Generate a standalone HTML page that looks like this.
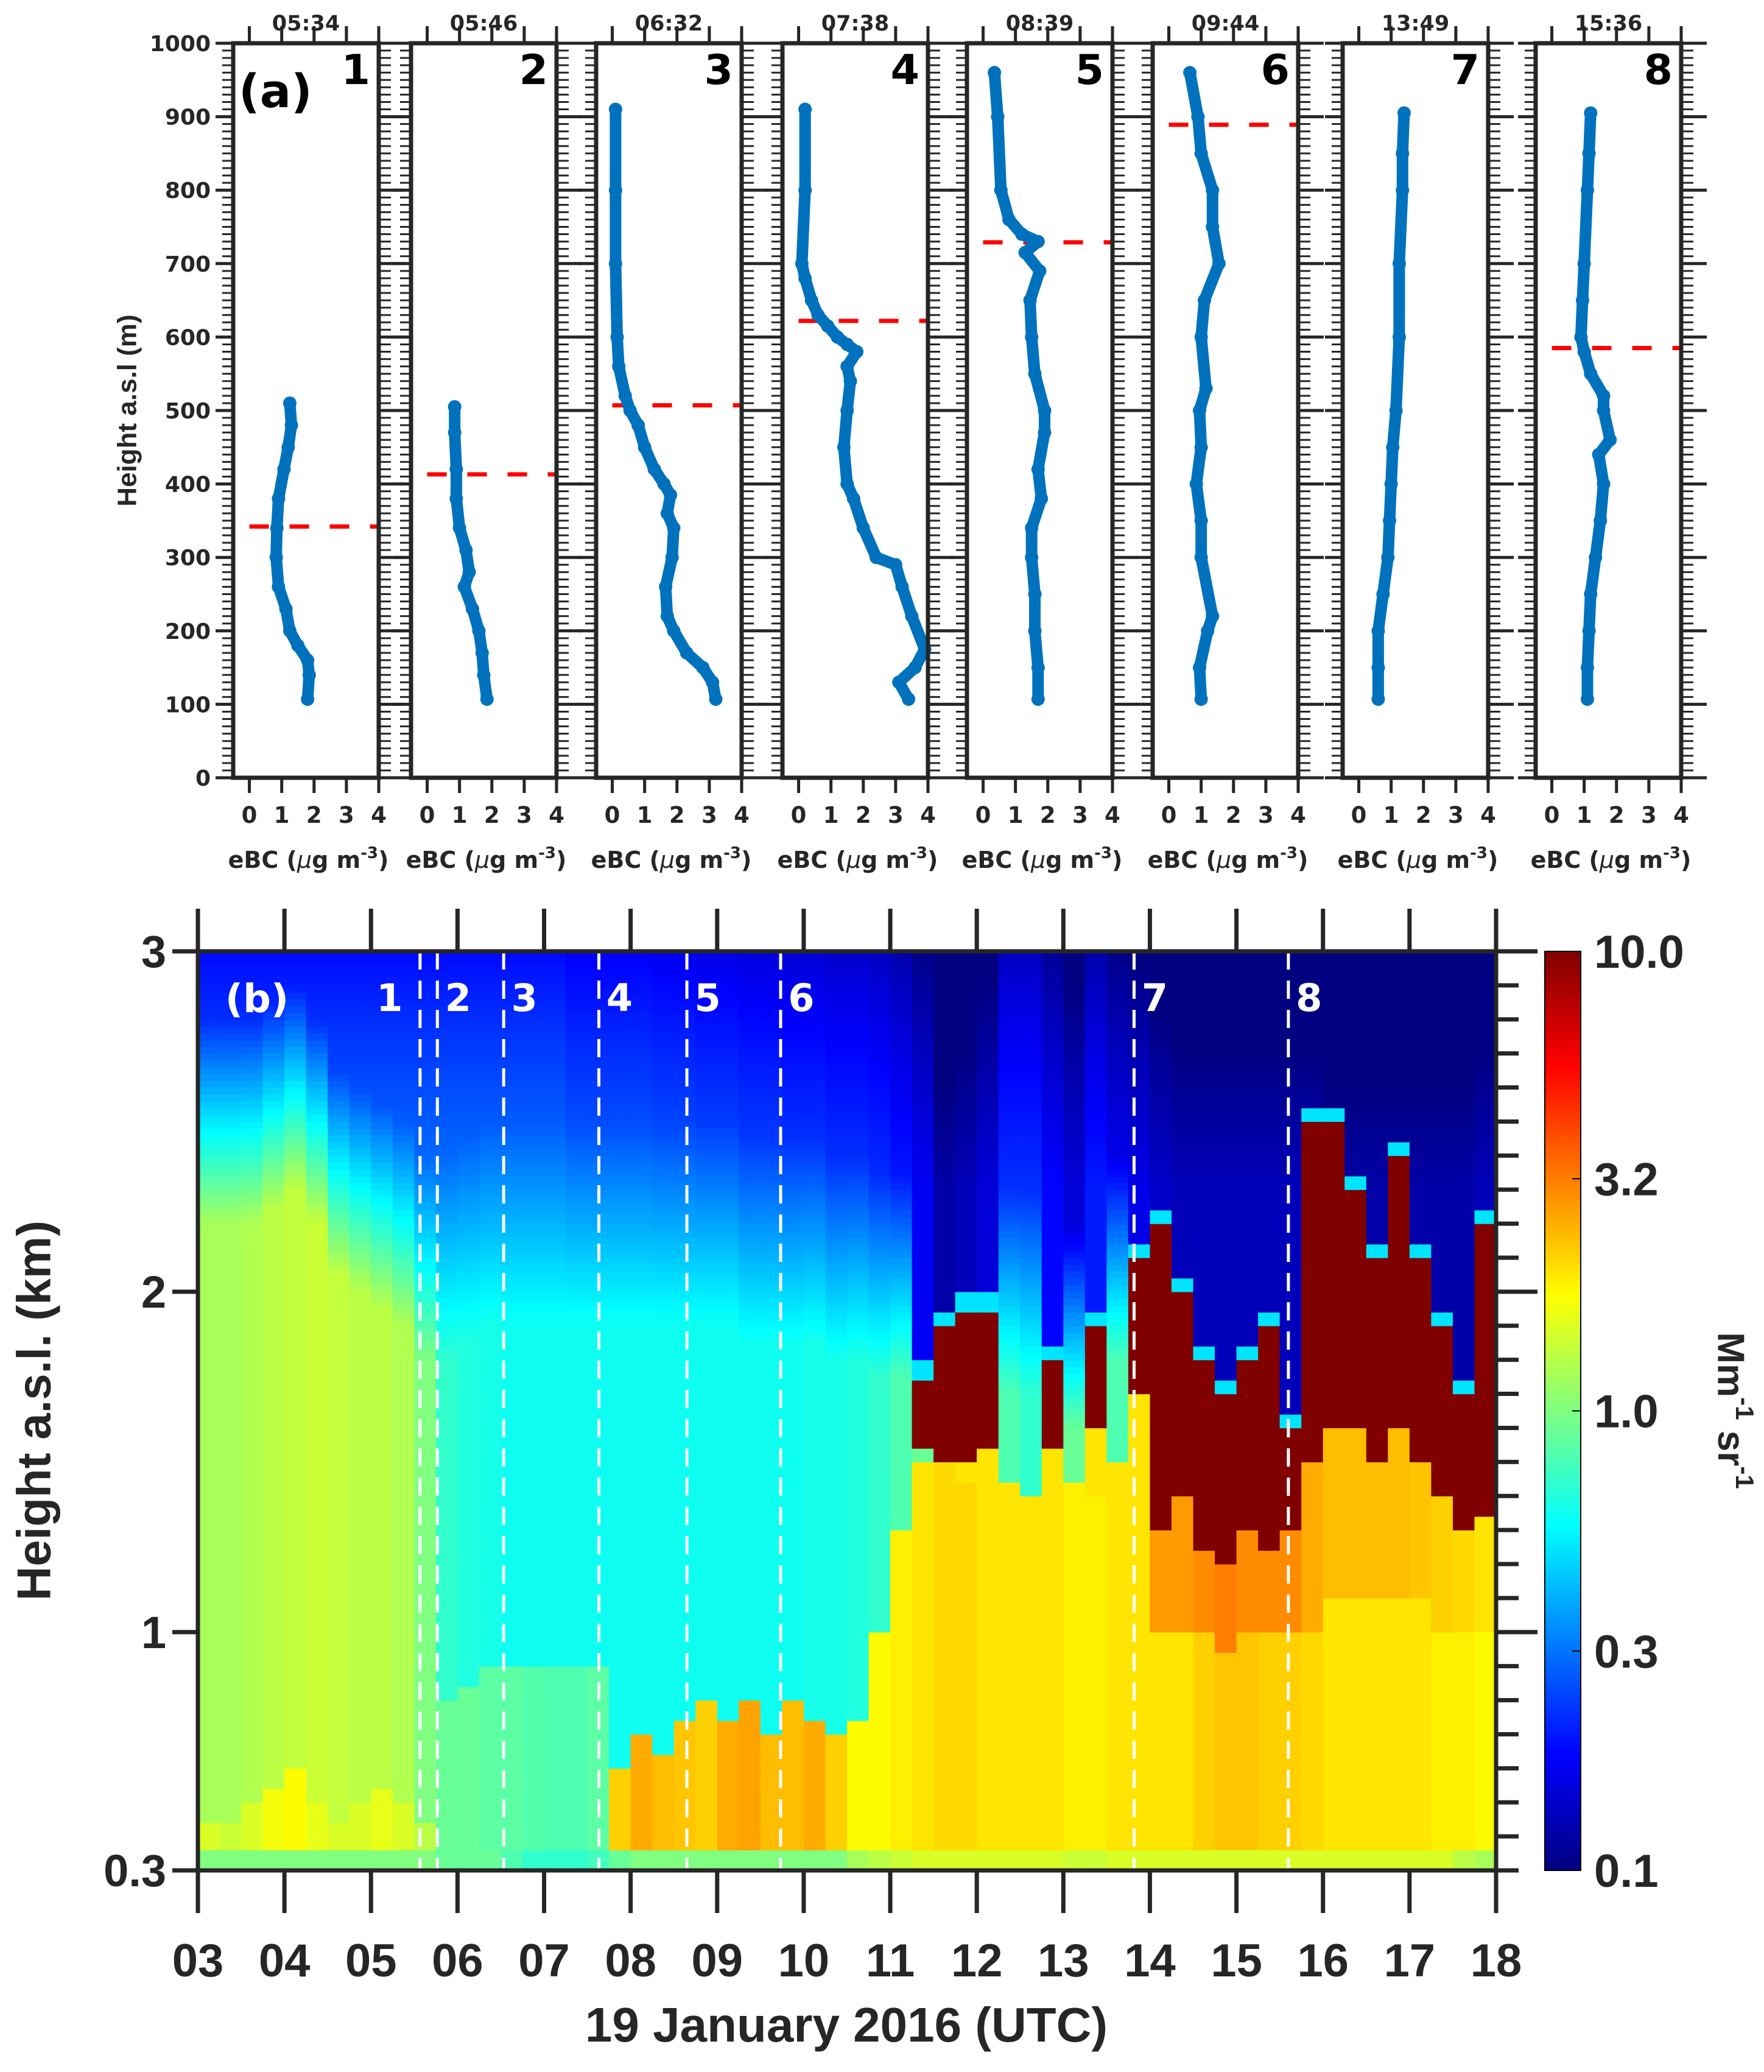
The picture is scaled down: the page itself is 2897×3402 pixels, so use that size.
<!DOCTYPE html>
<html><head><meta charset="utf-8">
<style>
html,body{margin:0;padding:0;background:#fff;}
svg{display:block;}
.ta{font-family:"DejaVu Sans","Liberation Sans",sans-serif;font-weight:bold;fill:#262626;}
.tb{font-family:"Liberation Sans Narrow","Liberation Sans",sans-serif;font-stretch:condensed;font-weight:bold;fill:#262626;}
.tc{font-family:"Liberation Sans",sans-serif;font-weight:bold;fill:#262626;}
</style></head>
<body>
<svg id="fig" width="2897" height="3402" viewBox="0 0 2897 3402" xmlns="http://www.w3.org/2000/svg">
<g id="pa"></g>
<g id="pb"></g>
<text class="tc" x="212" y="674" font-size="44" text-anchor="middle" transform="rotate(-90 212 674)" dominant-baseline="middle">Height a.s.l (m)</text>
<text class="ta" x="392" y="176" font-size="76" style="fill:#000">(a)</text>
<text class="tc" x="62" y="2316" font-size="78" text-anchor="middle" transform="rotate(-90 62 2316)" dominant-baseline="middle">Height a.s.l. (km)</text>
<text class="tb" x="1390" y="3352" font-size="80" text-anchor="middle">19 January 2016 (UTC)</text>
<text class="tc" x="2838" y="2316" font-size="62" text-anchor="middle" transform="rotate(90 2838 2316)" dominant-baseline="middle">Mm<tspan dy="-24" font-size="42">-1</tspan><tspan dy="24"> sr</tspan><tspan dy="-24" font-size="42">-1</tspan></text>
</svg>
<script>
// ---------- Panel (a) data ----------
const profTimes = ['05:34','05:46','06:32','07:38','08:39','09:44','13:49','15:36'];
const blHeights = [342, 413, 507, 622, 729, 889, null, 585];
const prof1H = [107,140,160,180,200,230,260,300,340,380,420,450,480,510];
const prof1E = [1.8,1.85,1.8,1.5,1.25,1.13,0.9,0.83,0.85,0.9,1.07,1.2,1.3,1.25];
const prof2H = [107,140,170,200,230,260,280,310,340,380,420,470,505];
const prof2E = [1.85,1.75,1.7,1.6,1.4,1.15,1.3,1.2,1.0,0.9,0.9,0.85,0.85];
const prof3H = [107,130,150,170,200,220,260,300,340,360,385,400,420,450,480,500,520,560,600,700,800,910];
const prof3E = [3.2,3.1,2.8,2.3,1.9,1.7,1.65,1.85,1.9,1.7,1.8,1.6,1.3,1.0,0.8,0.55,0.4,0.2,0.15,0.1,0.1,0.1];
const prof4H = [107,130,150,175,220,260,290,300,340,380,400,450,500,540,560,580,590,600,615,630,650,680,700,800,910];
const prof4E = [3.4,3.1,3.6,3.9,3.5,3.2,3.0,2.4,2.0,1.7,1.5,1.4,1.5,1.6,1.5,1.8,1.5,1.2,0.9,0.6,0.4,0.2,0.1,0.2,0.2];
const prof5H = [107,150,200,250,300,340,380,420,470,500,550,600,650,690,715,730,740,760,800,900,960];
const prof5E = [1.7,1.7,1.6,1.6,1.5,1.5,1.8,1.7,1.9,1.9,1.6,1.5,1.45,1.75,1.3,1.7,1.2,0.8,0.55,0.45,0.35];
const prof6H = [107,150,200,220,300,350,400,450,500,530,600,650,700,750,800,850,900,960];
const prof6E = [1.0,0.95,1.2,1.35,1.0,1.0,0.85,1.0,0.95,1.15,1.0,1.1,1.55,1.35,1.35,1.0,0.9,0.65];
const prof7H = [107,150,200,250,300,350,400,450,500,600,700,800,850,905];
const prof7E = [0.6,0.6,0.6,0.75,0.9,0.95,1.0,1.05,1.15,1.25,1.25,1.35,1.35,1.4];
const prof8H = [107,150,200,250,300,350,400,440,460,500,520,550,580,600,650,700,800,850,905];
const prof8E = [1.1,1.1,1.15,1.2,1.35,1.5,1.6,1.45,1.8,1.6,1.6,1.2,1.0,0.9,0.95,1.0,1.1,1.15,1.2];
const profH = [prof1H,prof2H,prof3H,prof4H,prof5H,prof6H,prof7H,prof8H];
const profE = [prof1E,prof2E,prof3E,prof4E,prof5E,prof6E,prof7E,prof8E];
const eTicks = [0,1,2,3,4];

// ---------- Panel (b) data (one value per 15-min column starting 03:00) ----------
const surfVal = [1.0,1.0,1.0,1.0,1.0,1.0,1.0,1.0,1.0,1.0,1.0,0.9,0.9,0.9,0.8,0.7,0.7,0.7,0.75,0.9,1.0,1.0,1.0,1.0,1.0,1.0,1.0,1.0,1.0,1.0,1.2,1.3,1.4,1.5,1.5,1.5,1.5,1.5,1.5,1.5,1.4,1.4,1.5,1.5,1.5,1.5,1.5,1.5,1.5,1.5,1.5,1.5,1.5,1.5,1.5,1.5,1.5,1.5,1.3,1.2];
const lowTop = [.45,.45,.5,.55,.6,.5,.45,.5,.55,.5,.45,.8,.85,.9,.9,.9,.9,.9,.9,.6,.7,.65,.75,.8,.75,.8,.7,.8,.75,.7,.75,1.0,1.3,1.5,1.5,1.45,1.5,1.45,1.4,1.45,1.45,1.4,1.5,1.5,1.0,1.0,1.0,.95,1.0,1.0,1.0,1.0,1.1,1.1,1.1,1.1,1.1,1.0,1.0,1.0];
const lowVal = [1.5,1.4,1.5,1.7,1.8,1.6,1.5,1.5,1.6,1.5,1.3,0.9,0.9,.85,.85,.82,.8,.8,.85,2.2,2.6,2.4,2.3,2.2,2.6,2.7,2.4,2.4,2.6,2.2,1.8,1.8,1.9,2.0,2.1,2.1,2.0,2.0,2.0,2.0,1.9,1.9,2.0,2.0,2.0,2.0,2.2,2.3,2.3,2.2,2.2,2.1,2.0,2.0,2.0,2.0,2.0,1.9,1.9,1.8];
const mlTop = [2.2,2.2,2.2,2.25,2.3,2.2,2.05,2.0,1.95,1.9,1.8,1.8,1.85,1.9,1.9,1.9,1.9,1.9,1.9,1.9,1.9,1.9,1.9,1.9,1.9,1.85,1.85,1.85,1.85,1.8,1.8,1.75,1.75,1.55,1.5,1.5,1.55,1.7,1.7,1.55,1.6,1.6,1.8,1.7,1.3,1.4,1.25,1.2,1.3,1.25,1.3,1.5,1.6,1.6,1.5,1.6,1.5,1.4,1.3,1.35];
const mlVal = [1.2,1.2,1.25,1.3,1.35,1.4,1.35,1.3,1.3,1.25,1.0,.7,.65,.62,.6,.6,.6,.6,.6,.6,.6,.6,.6,.6,.6,.6,.6,.6,.62,.62,.65,.7,.8,.9,2.0,2.0,2.0,.8,.7,2.0,.9,2.0,.8,2.0,2.8,2.8,3.0,3.2,3.0,3.0,3.0,2.6,2.4,2.4,2.4,2.4,2.3,2.2,2.1,2.0];
const cloudTop = [0,0,0,0,0,0,0,0,0,0,0,0,0,0,0,0,0,0,0,0,0,0,0,0,0,0,0,0,0,0,0,0,0,1.75,1.9,1.95,1.95,0,0,1.8,0,1.9,0,2.1,2.2,2.0,1.8,1.7,1.8,1.9,1.6,2.5,2.5,2.3,2.1,2.4,2.1,1.9,1.7,2.2];
const ftVal = [.3,.3,.3,.3,.3,.3,.3,.3,.3,.3,.3,.3,.3,.3,.3,.3,.3,.28,.28,.28,.28,.27,.27,.26,.26,.25,.25,.24,.24,.23,.23,.22,.2,.17,.12,.13,.15,.22,.22,.18,.15,.2,.17,.16,.14,.13,.13,.13,.13,.13,.13,.13,.12,.12,.12,.12,.12,.12,.12,.13];
const flightTimes = [5.567,5.767,6.533,7.633,8.65,9.733,13.817,15.6];
const flightLabels = ['1','2','3','4','5','6','7','8'];
const hourTicks = ['03','04','05','06','07','08','09','10','11','12','13','14','15','16','17','18'];
const kmTicks = [0.3,1,2,3];
const cbTicks = [0.1,0.3,1.0,3.2,10.0];

const NS='http://www.w3.org/2000/svg';
function mk(tag, attrs, parent){const e=document.createElementNS(NS,tag);for(const k in attrs)e.setAttribute(k,attrs[k]);parent.appendChild(e);return e;}
const AX='#262626';

// ===== Panel (a) =====
const pa=document.getElementById('pa');
const lefts=[383,675,979,1285,1588,1893,2205,2522];
const PW=239, aTop=71, aBot=1277;
const yA=h=>aBot-h*(aBot-aTop)/1000;
for(let p=0;p<8;p++){
  const L=lefts[p], R=L+PW;
  const xA=v=>L+(v+0.5)/4.5*PW;
  const g=mk('g',{},pa);
  
  
  for(let h=0;h<=1000;h+=10){
    const major=h%100===0;
    const y=yA(h);
    const t1=mk('line',{x1:L-(major?29:18),x2:L,y1:y,y2:y,stroke:AX,'stroke-width':major?5:3},g);
    
    
    const t2=mk('line',{x1:R,x2:R+(major?42:20),y1:y,y2:y,stroke:AX,'stroke-width':major?5:3},g);
    
    
  }
  eTicks.forEach(v=>{
    const x=xA(v);
    const t=mk('line',{x1:x,x2:x,y1:aTop,y2:aTop-28,stroke:AX,'stroke-width':5},g);
    
    
    const b=mk('line',{x1:x,x2:x,y1:aBot,y2:aBot+25,stroke:AX,'stroke-width':5},g);
    
    
    const lt=mk('text',{x:x,y:1351,'font-size':37,'text-anchor':'middle',class:'ta'},g);
    lt.textContent=v;
    
    
  });
  if(blHeights[p]!==null){
    const y=yA(blHeights[p]);
    const d=mk('line',{x1:xA(0),x2:R,y1:y,y2:y,stroke:'#ff0000','stroke-width':7,'stroke-dasharray':'32 34'},g);
    
    
  }
  const pts=profH[p].map((h,i)=>xA(profE[p][i]).toFixed(1)+','+yA(h).toFixed(1)).join(' ');
  const pl=mk('polyline',{points:pts,fill:'none',stroke:'#0072bd','stroke-width':19,'stroke-linejoin':'round','stroke-linecap':'round'},g);
  
  
  profH[p].forEach((h,i)=>{
    const c=mk('circle',{cx:xA(profE[p][i]),cy:yA(h),r:11,fill:'#0072bd'},g);
    
    
  });
  const box=mk('rect',{x:L,y:aTop,width:PW,height:aBot-aTop,fill:'none',stroke:AX,'stroke-width':7},g);
  
  
  const tt=mk('text',{x:L+PW/2,y:50,'font-size':35,'text-anchor':'middle',class:'ta'},g);
  tt.textContent=profTimes[p];
  
  
  const num=mk('text',{x:R-14,y:138,'font-size':68,'text-anchor':'end',class:'ta',style:'fill:#000'},g);
  num.textContent=String(p+1);
  
  
  const xl=mk('text',{x:L+PW/2+4,y:1425,'font-size':38,'text-anchor':'middle',class:'ta'},g);
  xl.innerHTML='eBC (<tspan font-style="italic" font-weight="normal">μ</tspan>g m<tspan dy="-16" font-size="26">-3</tspan><tspan dy="16">)</tspan>';
  
  
}
for(let h=0;h<=1000;h+=100){
  const t=mk('text',{x:346,y:yA(h)+13,'font-size':36,'text-anchor':'end',class:'ta'},pa);
  t.textContent=h;
  
  
}

// ===== Panel (b) =====
const pb=document.getElementById('pb');
const bL=325,bR=2457,bT=1562,bB=3071;
const xB=t=>bL+(t-3)*(bR-bL)/15;
const yB=z=>bB-(z-0.3)*(bB-bT)/2.7;
function jet(v){
  let f=(Math.log10(Math.max(0.1,Math.min(10,v)))+1)/2;
  const c=x=>Math.round(255*Math.max(0,Math.min(1,x)));
  return 'rgb('+c(1.5-Math.abs(4*f-3))+','+c(1.5-Math.abs(4*f-2))+','+c(1.5-Math.abs(4*f-1))+')';
}
function ftAt(i,z){ return ftVal[i]*Math.max(0.6, 1-0.55*Math.max(0,z-2.3)); }
function valueAt(i,z){
  if(z<0.36) return surfVal[i];
  if(z<lowTop[i]) return lowVal[i];
  if(cloudTop[i]>0){
    if(z<mlTop[i]) return mlVal[i];
    if(z<cloudTop[i]) return 10;
    if(z<cloudTop[i]+0.05) return 0.5;
    return ftAt(i,z);
  }
  if(z<mlTop[i]) return mlVal[i];
  const tr=0.6;
  if(z<mlTop[i]+tr){
    const a=(z-mlTop[i])/tr, top=ftAt(i,mlTop[i]+tr);
    return Math.exp(Math.log(mlVal[i])*(1-a)+Math.log(top)*a);
  }
  return ftAt(i,z);
}
const hm=mk('g',{},pb);


const dz=0.02;
for(let i=0;i<surfVal.length;i++){
  const t0=3+i*0.25, x0=xB(t0), x1=xB(t0+0.25);
  let start=0.3, cur=jet(valueAt(i,0.3+dz/2));
  for(let z=0.3+dz;z<=3.0001;z+=dz){
    const col= z<2.9999 ? jet(valueAt(i,z+dz/2)) : null;
    if(col!==cur){
      const r=mk('rect',{x:x0,y:yB(z),width:x1-x0+0.6,height:yB(start)-yB(z)+0.6,fill:cur},hm);
      
      
      start=z;cur=col;
    }
  }
}
flightTimes.forEach((t,k)=>{
  const x=xB(t);
  const l=mk('line',{x1:x,x2:x,y1:bT,y2:bB,stroke:'#fff','stroke-width':5,'stroke-dasharray':'30 18'},pb);
  
  
  const dx = k===0 ? -50 : 34;
  const lb=mk('text',{x:x+dx,y:1660,'font-size':62,'text-anchor':'middle',class:'ta',style:'fill:#fff'},pb);
  lb.textContent=flightLabels[k];
  
  
});
const bl=mk('text',{x:422,y:1662,'font-size':64,'text-anchor':'middle',class:'ta',style:'fill:#fff'},pb);
bl.textContent='(b)';


const bbox=mk('rect',{x:bL,y:bT,width:bR-bL,height:bB-bT,fill:'none',stroke:AX,'stroke-width':7},pb);


hourTicks.forEach((lab,k)=>{
  const x=xB(3+k);
  const a=mk('line',{x1:x,x2:x,y1:bT,y2:bT-70,stroke:AX,'stroke-width':7},pb);
  
  
  const b=mk('line',{x1:x,x2:x,y1:bB,y2:bB+70,stroke:AX,'stroke-width':7},pb);
  
  
  const t=mk('text',{x:x,y:3245,'font-size':76,'text-anchor':'middle',class:'tb'},pb);
  t.textContent=lab;
  
  
});
for(let z=3;z<=30;z++){
  const zz=z/10, y=yB(zz), major=(z%10===0);
  const r=mk('line',{x1:bR,x2:bR+(major?68:37),y1:y,y2:y,stroke:AX,'stroke-width':7},pb);
  
  
}
kmTicks.forEach(z=>{
  const y=yB(z);
  const a=mk('line',{x1:bL-42,x2:bL,y1:y,y2:y,stroke:AX,'stroke-width':7},pb);
  
  
  const t=mk('text',{x:bL-52,y:y+26,'font-size':74,'text-anchor':'end',class:'tb'},pb);
  t.textContent=String(z);
  
  
});
const defs=mk('defs',{},pb);
const grad=mk('linearGradient',{id:'jetg',x1:0,y1:1,x2:0,y2:0},defs);
for(let s=0;s<=64;s++){
  const f=s/64;
  mk('stop',{offset:f,'stop-color':jet(Math.pow(10,f*2-1))},grad);
}
const cbX=2537,cbW=59;
const cb=mk('rect',{x:cbX,y:bT,width:cbW,height:bB-bT,fill:'url(#jetg)',stroke:'#000','stroke-width':2},pb);


const yC=v=>bB-(Math.log10(v)+1)/2*(bB-bT);
cbTicks.forEach(v=>{
  const y=yC(v);
  const tk=mk('line',{x1:cbX+cbW-14,x2:cbX+cbW,y1:y,y2:y,stroke:'#000','stroke-width':2},pb);
  
  
  const t=mk('text',{x:2618,y:y+27,'font-size':76,class:'tc'},pb);
  t.textContent=v.toFixed(1);
  
  
});
</script>
</body></html>
